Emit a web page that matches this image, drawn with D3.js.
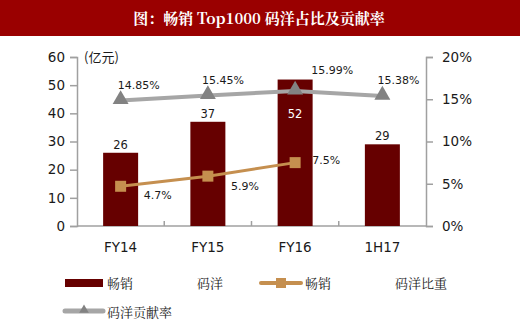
<!DOCTYPE html>
<html><head><meta charset="utf-8">
<script src="https://cdn.jsdelivr.net/npm/d3@7/dist/d3.min.js"></script>
<style>body{margin:0;background:#fff}svg{display:block}</style>
</head><body>
<script>
const categories = ["FY14", "FY15", "FY16", "1H17"];
const salesValues = [26, 37, 52, 29];               // 畅销码洋 (亿元)
const shareValues = [4.7, 5.9, 7.5];                // 畅销码洋比重 (%)
const contribValues = [14.85, 15.45, 15.99, 15.38]; // 码洋贡献率 (%)
const leftTicks = [0, 10, 20, 30, 40, 50, 60];
const rightTicks = [0, 5, 10, 15, 20];
const shareLabels = ["4.7%", "5.9%", "7.5%"];
const contribLabels = ["14.85%", "15.45%", "15.99%", "15.38%"];

const W = 520, H = 329;
const svg = d3.select("body").append("svg").attr("width", W).attr("height", H);
const numFont = "'DejaVu Sans', Verdana, sans-serif";
const cjkFont = "'Noto Sans CJK SC', sans-serif";

// title bar
svg.append("rect").attr("x", 0).attr("y", 0).attr("width", W).attr("height", 36).attr("fill", "#9a0000");
svg.append("text").attr("x", 259).attr("y", 23.5).attr("text-anchor", "middle")
  .attr("fill", "#fff").attr("font-family", "'Noto Serif CJK SC','Noto Sans CJK SC',serif")
  .attr("font-weight", "bold").attr("font-size", 15).text("图：畅销 Top1000 码洋占比及贡献率");

const x0 = 77, x1 = 426, yTop = 57, yBot = 226;
const x = d3.scaleBand().domain(categories).range([x0, x1]).paddingInner(0.6).paddingOuter(0.3);
const xb = d3.scaleBand().domain(categories).range([x0, x1]);
const yL = d3.scaleLinear().domain([0, 60]).range([yBot, yTop]);
const yR = d3.scaleLinear().domain([0, 20]).range([yBot, yTop]);
const axisColor = "#a0a0a0";

// left axis
const gL = svg.append("g").attr("transform", `translate(${x0},0)`)
  .call(d3.axisLeft(yL).tickValues(leftTicks).tickSize(7).tickPadding(5).tickFormat(d3.format("d")));
// right axis
const gR = svg.append("g").attr("transform", `translate(${x1},0)`)
  .call(d3.axisRight(yR).tickValues(rightTicks).tickSize(7).tickPadding(9).tickFormat(d => d + "%"));
[gL, gR].forEach(g => {
  g.select(".domain").attr("stroke", axisColor).attr("stroke-width", 1.5);
  g.selectAll(".tick line").attr("stroke", axisColor).attr("stroke-width", 1.5);
  g.selectAll(".tick text").attr("fill", "#1a1a1a").attr("font-family", numFont).attr("font-size", 13.5);
});

// x axis line and inner ticks at band boundaries
svg.append("line").attr("x1", x0).attr("x2", x1).attr("y1", yBot).attr("y2", yBot)
  .attr("stroke", axisColor).attr("stroke-width", 1.5);
svg.selectAll(".xtick").data(categories.slice(1)).join("line")
  .attr("x1", d => xb(d)).attr("x2", d => xb(d)).attr("y1", yBot).attr("y2", yBot - 5)
  .attr("stroke", axisColor).attr("stroke-width", 1.5);
svg.selectAll(".xlab").data(categories).join("text")
  .attr("x", d => xb(d) + xb.bandwidth() / 2).attr("y", 252).attr("text-anchor", "middle")
  .attr("fill", "#1a1a1a").attr("font-family", numFont).attr("font-size", 13.5).text(d => d);

// unit
svg.append("text").attr("x", 84).attr("y", 62).attr("fill", "#1a1a1a")
  .attr("font-family", cjkFont).attr("font-size", 13).text("(亿元)");

// bars
const barW = 35;
const cx = d => xb(d) + xb.bandwidth() / 2;
svg.selectAll(".bar").data(salesValues).join("rect")
  .attr("x", (d, i) => cx(categories[i]) - barW / 2).attr("width", barW)
  .attr("y", d => yL(d)).attr("height", d => yBot - yL(d)).attr("fill", "#660000");
svg.selectAll(".barlab").data(salesValues).join("text")
  .attr("x", (d, i) => cx(categories[i]))
  .attr("y", d => d >= 50 ? yL(d) + 38 : yL(d) - 4)
  .attr("text-anchor", "middle").attr("font-family", numFont).attr("font-size", 11.5)
  .attr("fill", d => d >= 50 ? "#fff" : "#1a1a1a").text(d => d);

// contribution line (gray)
const lineC = d3.line().x((d, i) => cx(categories[i])).y(d => yR(d));
svg.append("path").datum(contribValues).attr("d", lineC).attr("fill", "none")
  .attr("stroke", "#a6a6a6").attr("stroke-width", 4);
const tri = d3.symbol().type(d3.symbolTriangle).size(110);
svg.selectAll(".tri").data(contribValues).join("path")
  .attr("d", tri).attr("transform", (d, i) => `translate(${cx(categories[i])},${yR(d) - 1})`)
  .attr("fill", "#828282");
const cOff = [[18, -12], [15, -11], [37, -17], [16, -12]];
svg.selectAll(".clab").data(contribLabels).join("text")
  .attr("x", (d, i) => cx(categories[i]) + cOff[i][0])
  .attr("y", (d, i) => yR(contribValues[i]) + cOff[i][1])
  .attr("text-anchor", "middle").attr("font-family", numFont).attr("font-size", 11)
  .attr("fill", "#1a1a1a").text(d => d);

// share line (orange)
const lineS = d3.line().x((d, i) => cx(categories[i])).y(d => yR(d));
svg.append("path").datum(shareValues).attr("d", lineS).attr("fill", "none")
  .attr("stroke", "#c58f4f").attr("stroke-width", 3);
svg.selectAll(".sq").data(shareValues).join("rect")
  .attr("x", (d, i) => cx(categories[i]) - 5.5).attr("y", d => yR(d) - 5.5)
  .attr("width", 11).attr("height", 11).attr("fill", "#c58f4f");
const sOff = [[37, 13], [37, 14], [31, 1]];
svg.selectAll(".slab").data(shareLabels).join("text")
  .attr("x", (d, i) => cx(categories[i]) + sOff[i][0])
  .attr("y", (d, i) => yR(shareValues[i]) + sOff[i][1])
  .attr("text-anchor", "middle").attr("font-family", numFont).attr("font-size", 11)
  .attr("fill", "#1a1a1a").text(d => d);

// legend
const lg = svg.append("g");
lg.append("rect").attr("x", 65).attr("y", 279).attr("width", 38).attr("height", 8).attr("fill", "#660000");
const legText = (t, xx, yy) => lg.append("text").attr("x", xx).attr("y", yy).attr("fill", "#1a1a1a")
  .attr("font-family", "'Noto Serif CJK SC','Noto Sans CJK SC',serif").attr("font-size", 13).text(t);
legText("畅销", 107, 288);
legText("码洋", 197, 288);
lg.append("line").attr("x1", 261).attr("x2", 301).attr("y1", 283).attr("y2", 283)
  .attr("stroke", "#c58f4f").attr("stroke-width", 4).attr("stroke-linecap", "round");
lg.append("rect").attr("x", 276).attr("y", 278).attr("width", 10).attr("height", 10).attr("fill", "#c58f4f");
legText("畅销", 305, 288);
legText("码洋比重", 395, 288);
lg.append("line").attr("x1", 65).attr("x2", 103).attr("y1", 311).attr("y2", 311)
  .attr("stroke", "#a6a6a6").attr("stroke-width", 5).attr("stroke-linecap", "round");
lg.append("path").attr("d", d3.symbol().type(d3.symbolTriangle).size(40))
  .attr("transform", "translate(84,310)").attr("fill", "#828282");
legText("码洋贡献率", 107, 317);
</script>
</body></html>
